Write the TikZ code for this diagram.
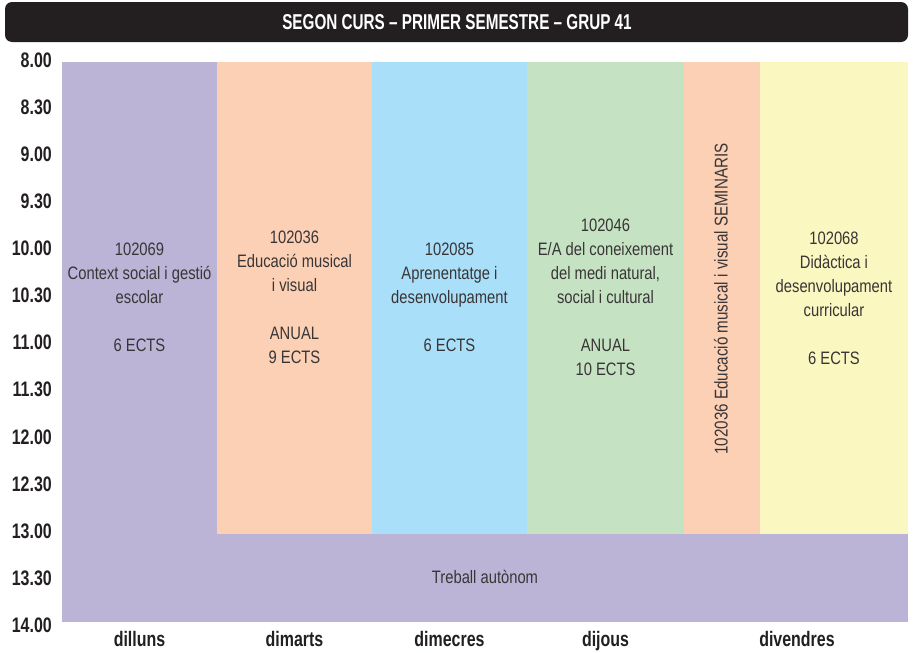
\documentclass[tikz,border=0pt]{standalone}
\usepackage{fontspec}
\setmainfont{Liberation Sans}
\newfontfamily\cellfont[FakeStretch=0.82]{Liberation Sans}
\newfontfamily\headfont[FakeStretch=0.76]{Liberation Sans Bold}
\newfontfamily\titlefont[FakeStretch=0.71]{Liberation Sans Bold}
\definecolor{lila}{HTML}{BBB4D7}
\definecolor{pressec}{HTML}{FBD0B5}
\definecolor{cel}{HTML}{A9DFF9}
\definecolor{verd}{HTML}{C5E3C2}
\definecolor{groc}{HTML}{FBF7C1}
\definecolor{negre}{HTML}{231F20}
\begin{document}
\begin{tikzpicture}[x=1pt,y=-1pt,
    hora/.style={anchor=east,text=negre,inner sep=0pt,font=\headfont\fontsize{21}{21}\selectfont},
    dia/.style={anchor=base,text=negre,inner sep=0pt,font=\headfont\fontsize{21}{21}\selectfont},
    assig/.style={align=center,text=negre!90,inner sep=0pt,font=\cellfont\fontsize{18}{24}\selectfont}]
                \useasboundingbox (0,0) rectangle (913,653);
                %% title bar
                \fill[negre,rounded corners=7pt] (5,2) rectangle (908,42);
                \node[text=white,font=\titlefont\fontsize{21.5}{21.5}\selectfont] (titol) at (457,22) {SEGON CURS – PRIMER SEMESTRE – GRUP 41};
                %% columns
                \fill[lila] (62,62) rectangle (217,622);
                \fill[pressec] (217,62) rectangle (372,534);
                \fill[cel] (372,62) rectangle (527,534);
                \fill[verd] (527,62) rectangle (684,534);
                \fill[pressec] (684,62) rectangle (760,534);
                \fill[groc] (760,62) rectangle (908,534);
                \fill[lila] (62,534) rectangle (908,622);
                %% hours
                \foreach \t [count=\i from 0] in {8.00,8.30,9.00,9.30,10.00,10.30,11.00,11.30,12.00,12.30,13.00,13.30,14.00}
                    \node[hora] (h\i) at (52,{60+47.1*\i}) {\t};
                %% subjects
                \node[assig] (dl) at (139.5,297) {102069\\Context social i gestió\\escolar\\[24pt]6 ECTS};
                \node[assig] (dm) at (294.5,297) {102036\\Educació musical\\i visual\\[24pt]ANUAL\\9 ECTS};
                \node[assig] (dx) at (449.5,297) {102085\\Aprenentatge i\\desenvolupament\\[24pt]6 ECTS};
                \node[assig] (dj) at (605.5,297) {102046\\E/A del coneixement\\del medi natural,\\social i cultural\\[24pt]ANUAL\\10 ECTS};
                \node[assig,rotate=90,font=\cellfont\fontsize{18.5}{24}\selectfont] (sem) at (721,299) {102036 Educació musical i visual SEMINARIS};
                \node[assig] (dv) at (834,298) {102068\\Didàctica i\\desenvolupament\\curricular\\[24pt]6 ECTS};
                \node[assig] (treball) at (485,577) {Treball autònom};
                %% days
                \node[dia] (dilluns) at (139.5,646) {dilluns};
                \node[dia] (dimarts) at (294.5,646) {dimarts};
                \node[dia] (dimecres) at (449.5,646) {dimecres};
                \node[dia] (dijous) at (605.5,646) {dijous};
                \node[dia] (divendres) at (797,646) {divendres};
            \end{tikzpicture}
\end{document}
